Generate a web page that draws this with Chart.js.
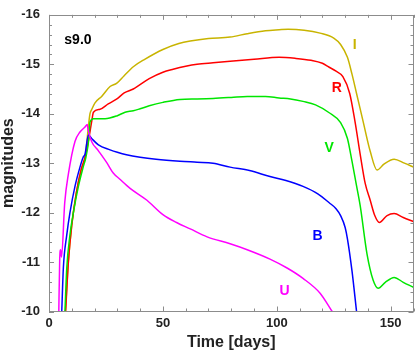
<!DOCTYPE html>
<html>
<head>
<meta charset="utf-8">
<script src="https://cdn.jsdelivr.net/npm/chart.js@4.4.0/dist/chart.umd.min.js"></script>
<style>
  html, body { margin: 0; padding: 0; background: #fff; }
  #wrap { width: 415px; height: 353px; }
</style>
</head>
<body>
<div id="wrap"><canvas id="mycanvas" width="415" height="353"></canvas></div>
<script>
// light curves of model s9.0
var iDays = [7.2, 8.5, 10, 12, 14, 16, 17.2, 18, 18.8, 20.2, 23.1, 26.8, 29.8, 33, 37, 42, 50, 57, 62, 70, 79.5, 87, 95, 101, 105, 112, 119, 125, 128, 131, 133, 135, 138, 141, 144, 147, 151.5, 156, 160];
var iMag  = [-10, -11, -11.75, -12.4, -12.85, -13.15, -13.7, -14.0, -14.09, -14.22, -14.35, -14.55, -14.62, -14.77, -14.95, -15.1, -15.3, -15.42, -15.47, -15.52, -15.55, -15.62, -15.68, -15.7, -15.71, -15.69, -15.63, -15.53, -15.4, -15.14, -14.8, -14.41, -13.82, -13.24, -12.86, -12.98, -13.08, -13.0, -12.92];

var rDays = [7.3, 8.5, 10, 12, 14, 16, 17.5, 18.8, 19.5, 22.4, 26, 29.8, 33, 37, 44, 50, 54.5, 60, 65, 72, 79.5, 90, 101, 108, 115, 120, 123, 126, 129, 132, 134.4, 136.6, 138.8, 141, 143, 145, 148.4, 151.5, 155.5, 160];
var rMag  = [-10, -11, -11.75, -12.4, -12.85, -13.15, -13.5, -13.86, -14.03, -14.09, -14.2, -14.3, -14.42, -14.5, -14.71, -14.84, -14.9, -14.96, -15.0, -15.03, -15.06, -15.1, -15.14, -15.12, -15.08, -15.02, -14.94, -14.86, -14.75, -14.41, -13.82, -13.18, -12.59, -12.25, -11.94, -11.8, -11.94, -11.98, -11.9, -11.82];

var vDays = [7.0, 7.8, 9.2, 10.7, 12.9, 15, 16.2, 17.5, 18, 19.5, 24.6, 30, 33.4, 37, 40, 44, 50, 57.5, 65, 72, 80, 87, 95, 101, 106, 111.5, 117, 123, 128, 131, 133, 134.8, 136.6, 139.6, 142.3, 144.5, 147.6, 151.5, 155.5, 160];
var vMag  = [-10, -10.88, -11.55, -12.0, -12.53, -12.92, -13.12, -13.5, -13.83, -13.9, -13.9, -13.96, -14.03, -14.06, -14.1, -14.16, -14.23, -14.29, -14.3, -14.31, -14.33, -14.35, -14.35, -14.32, -14.3, -14.25, -14.18, -14.02, -13.82, -13.5, -13.04, -12.59, -12.14, -11.16, -10.63, -10.47, -10.59, -10.69, -10.59, -10.49];

var bDays = [5.6, 6.3, 7.8, 9.2, 11.4, 13.6, 15, 15.8, 17.3, 18.7, 21.7, 26.8, 30, 34, 40, 47, 57.5, 65, 72, 79.5, 88, 97, 104, 111.5, 118, 123, 126, 128, 130, 131, 133, 135];
var bMag  = [-10, -10.88, -11.55, -12.0, -12.53, -12.92, -13.12, -13.18, -13.57, -13.5, -13.37, -13.27, -13.22, -13.17, -13.12, -13.08, -13.04, -13.02, -13.0, -12.92, -12.85, -12.73, -12.65, -12.53, -12.38, -12.2, -12.08, -11.94, -11.7, -11.47, -10.82, -10.0];

var uDays = [4.3, 4.7, 5.1, 5.5, 6.9, 8.5, 11.4, 13.6, 15.8, 16.8, 17.2, 18.7, 21.7, 25.5, 28.2, 31, 35.6, 43, 50, 56, 62, 69.4, 79.5, 87, 97, 104.5, 111.5, 119, 124.3];
var uMag  = [-10, -11.05, -11.25, -11.1, -12.2, -12.78, -13.44, -13.63, -13.73, -13.78, -13.67, -13.44, -13.25, -13.0, -12.8, -12.68, -12.49, -12.25, -11.96, -11.8, -11.67, -11.51, -11.37, -11.25, -11.06, -10.88, -10.67, -10.37, -10.0];

var xTicks = [0, 50, 100, 150];
var yTicks = [-16, -15, -14, -13, -12, -11, -10];

// curve labels, placed in data coordinates
var bandLabels = [
  {text: 'I', x: 134.2, y: -15.38, color: '#c8b400'},
  {text: 'R', x: 126.3, y: -14.52, color: '#ff0000'},
  {text: 'V', x: 123.0, y: -13.31, color: '#00e600'},
  {text: 'B', x: 117.9, y: -11.53, color: '#0000ff'},
  {text: 'U', x: 103.4, y: -10.41, color: '#ff00ff'}
];
var modelName = {text: 's9.0', x: 12.7, y: -15.48};

function pts(xs, ys) {
  var out = [];
  for (var i = 0; i < xs.length; i++) out.push({x: xs[i], y: ys[i]});
  return out;
}

function curve(label, xs, ys, color) {
  return {
    label: label,
    data: pts(xs, ys),
    borderColor: color,
    backgroundColor: color,
    borderWidth: 1.5,
    pointRadius: 0,
    fill: false,
    cubicInterpolationMode: 'monotone'
  };
}

var FONT = "'Liberation Sans', Arial, Helvetica, sans-serif";

var framePlugin = {
  id: 'frame',
  afterDatasetsDraw: function(chart) {
    var ctx = chart.ctx, a = chart.chartArea;
    var xs = chart.scales.x, ys = chart.scales.y;
    ctx.save();
    ctx.strokeStyle = '#8c8c8c';
    ctx.lineWidth = 1;
    ctx.strokeRect(Math.round(a.left) + 0.5, Math.round(a.top) + 0.5,
                   Math.round(a.right - a.left) - 1, Math.round(a.bottom - a.top) - 1);
    ctx.beginPath();
    for (var d = 0; d <= 160; d += 10) {
      var px = Math.round(xs.getPixelForValue(d)) + 0.5;
      var len = (d % 50 === 0) ? 5 : 3;
      ctx.moveTo(px, a.bottom); ctx.lineTo(px, a.bottom - len);
      ctx.moveTo(px, a.top); ctx.lineTo(px, a.top + len);
    }
    for (var k = 0; k <= 30; k++) {
      var m = -16 + k * 0.2;
      var py = Math.round(ys.getPixelForValue(m)) + 0.5;
      var l2 = (k % 5 === 0) ? 5 : 3;
      ctx.moveTo(a.left, py); ctx.lineTo(a.left + l2, py);
      ctx.moveTo(a.right, py); ctx.lineTo(a.right - l2, py);
    }
    ctx.stroke();
    ctx.restore();
  },
  afterDraw: function(chart) {
    var ctx = chart.ctx;
    var xs = chart.scales.x, ys = chart.scales.y;
    ctx.save();
    ctx.textAlign = 'center';
    ctx.textBaseline = 'middle';
    ctx.font = 'bold 14px ' + FONT;
    bandLabels.forEach(function(b) {
      ctx.fillStyle = b.color;
      ctx.fillText(b.text, xs.getPixelForValue(b.x), ys.getPixelForValue(b.y));
    });
    ctx.fillStyle = '#000';
    ctx.fillText(modelName.text, xs.getPixelForValue(modelName.x), ys.getPixelForValue(modelName.y));
    ctx.restore();
  }
};

var ctx = document.getElementById('mycanvas');

var lightCurve = new Chart(ctx, {
  type: 'line',
  data: {
    datasets: [
      curve('U', uDays, uMag, '#ff00ff'),
      curve('B', bDays, bMag, '#0000ff'),
      curve('V', vDays, vMag, '#00e600'),
      curve('R', rDays, rMag, '#ff0000'),
      curve('I', iDays, iMag, '#c8b400')
    ]
  },
  options: {
    responsive: false,
    animation: false,
    events: [],
    layout: { padding: { top: 5.5, right: 1.5, left: 0, bottom: 0 } },
    plugins: { legend: { display: false }, tooltip: { enabled: false } },
    scales: {
      x: {
        type: 'linear',
        min: 0,
        max: 160,
        afterFit: function(s) { s.height = 41.5; },
        afterBuildTicks: function(s) { s.ticks = xTicks.map(function(v) { return {value: v}; }); },
        grid: { display: false, drawTicks: false },
        border: { display: false },
        ticks: { color: '#222', padding: 6.5, maxRotation: 0, autoSkip: false,
                 font: { family: FONT, size: 13, weight: 'bold', lineHeight: 0.9 } },
        title: { display: true, text: 'Time [days]', color: '#222',
                 padding: { top: 0, bottom: 1 },
                 font: { family: FONT, size: 16, weight: 'bold', lineHeight: 1.2 } }
      },
      y: {
        type: 'linear',
        reverse: true,
        min: -16,
        max: -10,
        afterFit: function(s) { s.width = 49; },
        afterBuildTicks: function(s) { s.ticks = yTicks.map(function(v) { return {value: v}; }); },
        grid: { display: false, drawTicks: false },
        border: { display: false },
        ticks: { color: '#222', padding: 9, autoSkip: false,
                 font: { family: FONT, size: 13, weight: 'bold', lineHeight: 0.9 } },
        title: { display: true, text: 'magnitudes', color: '#222',
                 padding: { top: 0, bottom: 0 },
                 font: { family: FONT, size: 16, weight: 'bold', lineHeight: 1.1 } }
      }
    }
  },
  plugins: [framePlugin]
});
</script>
</body>
</html>
